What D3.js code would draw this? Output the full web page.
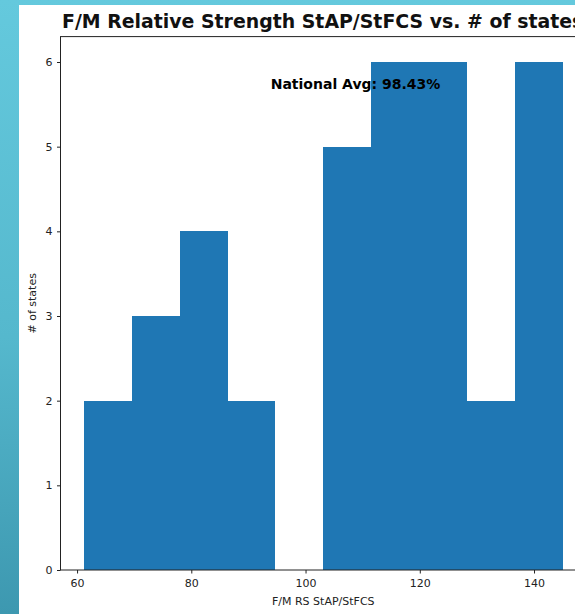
<!DOCTYPE html>
<html>
<head>
<meta charset="utf-8">
<script src="https://cdn.jsdelivr.net/npm/d3@7"></script>
<style>
  html, body { margin: 0; padding: 0; background: #ffffff; }
  svg { display: block; }
  text { font-family: "DejaVu Sans", sans-serif; }
</style>
</head>
<body>
<svg id="chart" width="575" height="614"></svg>
<script>
// ---- data ----
const binEdges = [61.2, 69.58, 77.96, 86.34, 94.72, 103.1, 111.48, 119.86, 128.24, 136.62, 145.0];
const counts = [2, 3, 4, 2, 0, 5, 6, 6, 2, 6];
const xTicks = [60, 80, 100, 120, 140];
const yTicks = [0, 1, 2, 3, 4, 5, 6];
const titleText = "F/M Relative Strength StAP/StFCS vs. # of states";
const xLabel = "F/M RS StAP/StFCS";
const yLabel = "# of states";
const annotText = "National Avg: 98.43%";
const annotPos = [93.9, 5.68];

const bins = counts.map((c, i) => ({ x0: binEdges[i], x1: binEdges[i + 1], count: c }));

const svg = d3.select("#chart");
const W = 575, H = 614;

// background gradient frame
const defs = svg.append("defs");
const grad = defs.append("linearGradient").attr("id", "bg").attr("x1", 0).attr("y1", 0).attr("x2", 0).attr("y2", 1);
grad.append("stop").attr("offset", "0%").attr("stop-color", "#64c9dd");
grad.append("stop").attr("offset", "55%").attr("stop-color", "#55b8cd");
grad.append("stop").attr("offset", "100%").attr("stop-color", "#3d98b0");
svg.append("rect").attr("width", W).attr("height", H).attr("fill", "url(#bg)");
svg.append("rect").attr("x", 19).attr("y", 5).attr("width", W - 19).attr("height", H - 5).attr("fill", "#ffffff");

// scales
const x = d3.scaleLinear().domain([57.1, 149.1]).range([60.5, 586]);
const y = d3.scaleLinear().domain([0, 6.3]).range([570, 36.6]);

// bars
svg.append("g").attr("shape-rendering", "crispEdges").selectAll("rect").data(bins).join("rect")
  .attr("x", d => Math.round(x(d.x0)))
  .attr("y", d => Math.round(y(d.count)))
  .attr("width", d => Math.round(x(d.x1)) - Math.round(x(d.x0)))
  .attr("height", d => Math.round(y(0)) - Math.round(y(d.count)))
  .attr("fill", "#1f77b4");

// annotation
svg.append("text")
  .attr("x", x(annotPos[0])).attr("y", y(annotPos[1]))
  .attr("font-size", "14px").attr("font-weight", "bold").attr("fill", "#000")
  .text(annotText);

// frame (spines)
svg.append("rect")
  .attr("x", x.range()[0]).attr("y", y.range()[1])
  .attr("width", x.range()[1] - x.range()[0])
  .attr("height", y.range()[0] - y.range()[1])
  .attr("fill", "none").attr("stroke", "#222").attr("stroke-width", 1);

// axes
const xAxis = svg.append("g").attr("transform", `translate(0,${y(0)})`)
  .call(d3.axisBottom(x).tickValues(xTicks).tickSize(3.5).tickPadding(6).tickFormat(d3.format("d")));
const yAxis = svg.append("g").attr("transform", `translate(${x.range()[0]},0)`)
  .call(d3.axisLeft(y).tickValues(yTicks).tickSize(3.5).tickPadding(4.5).tickFormat(d3.format("d")));
[xAxis, yAxis].forEach(g => {
  g.select(".domain").remove();
  g.selectAll(".tick line").attr("stroke", "#222");
  g.selectAll(".tick text").attr("font-family", "DejaVu Sans").attr("font-size", "11px").attr("fill", "#222");
});

// labels
svg.append("text")
  .attr("x", (x.range()[0] + x.range()[1]) / 2).attr("y", 605)
  .attr("text-anchor", "middle").attr("font-size", "11px").attr("fill", "#222")
  .text(xLabel);
svg.append("text")
  .attr("transform", `translate(36,${(y.range()[0] + y.range()[1]) / 2}) rotate(-90)`)
  .attr("text-anchor", "middle").attr("font-size", "11px").attr("fill", "#222")
  .text(yLabel);

// title
svg.append("text")
  .attr("x", 62).attr("y", 28)
  .attr("font-size", "18.9px").attr("font-weight", "bold").attr("fill", "#111")
  .text(titleText);
</script>
</body>
</html>
